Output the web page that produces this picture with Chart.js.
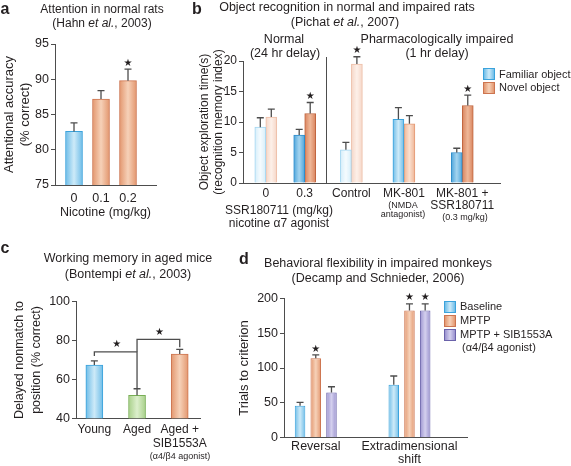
<!DOCTYPE html>
<html>
<head>
<meta charset="utf-8">
<title>Nicotinic agonists and cognition</title>
<script src="https://cdn.jsdelivr.net/npm/chart.js@4.4.1/dist/chart.umd.min.js"></script>
<style>
html,body{margin:0;padding:0;background:#fff}
body{position:relative;width:571px;height:466px;overflow:hidden;font-family:"Liberation Sans",Arial,Helvetica,sans-serif;color:#231f20}
canvas{position:absolute}
.c,.l{position:absolute;white-space:nowrap;line-height:1;font-size:12.5px}
.c{transform:translate(-50%,-50%)}
.l{transform:translateY(-50%)}
.p{font-weight:bold;font-size:16px}
.s{font-size:9px}
.g{font-size:11px}
.sw{position:absolute;width:10px;height:10px;border:1px solid}
.sw.blue{border-color:#3ba3dc;background:linear-gradient(to right,#6fbde8,#cdeaf8,#6fbde8)}
.sw.orange{border-color:#cd7550;background:linear-gradient(to right,#e3976f,#f6d1b8,#e3976f)}
.sw.purple{border-color:#6a62aa;background:linear-gradient(to right,#9a92cf,#d4d0ee,#9a92cf)}
</style>
</head>
<body>
<canvas id="chartA" width="160" height="225" style="left:0;top:0"></canvas>
<canvas id="chartB" width="376" height="235" style="left:195px;top:0"></canvas>
<canvas id="chartC" width="235" height="236" style="left:0;top:230px"></canvas>
<canvas id="chartD" width="336" height="236" style="left:235px;top:230px"></canvas>

<!-- a -->
<div class="c p" style="left:5px;top:9px">a</div>
<div class="c" style="left:102px;top:9px;font-size:12px">Attention in normal rats</div>
<div class="c" style="left:102px;top:23px;font-size:12px">(Hahn <i>et al.</i>, 2003)</div>

<!-- b -->
<div class="c p" style="left:197px;top:9px">b</div>
<div class="c" style="left:347px;top:7px">Object recognition in normal and impaired rats</div>
<div class="c" style="left:345px;top:22px">(Pichat <i>et al.</i>, 2007)</div>
<div class="c" style="left:284px;top:39px">Normal</div>
<div class="c" style="left:285px;top:53px">(24 hr delay)</div>
<div class="c" style="left:437px;top:39px">Pharmacologically impaired</div>
<div class="c" style="left:437px;top:53px">(1 hr delay)</div>
<div class="sw blue" style="left:483px;top:68px"></div>
<div class="l g" style="left:499px;top:74px">Familiar object</div>
<div class="sw orange" style="left:483px;top:82px"></div>
<div class="l g" style="left:499px;top:87px">Novel object</div>
<div class="c" style="left:279px;top:210px;font-size:12px">SSR180711 (mg/kg)</div>
<div class="c" style="left:279px;top:223px;font-size:12px">nicotine α7 agonist</div>
<div class="c s" style="left:403px;top:205px">(NMDA</div>
<div class="c s" style="left:403px;top:214px">antagonist)</div>
<div class="c s" style="left:465px;top:217px">(0.3 mg/kg)</div>

<!-- c -->
<div class="c p" style="left:5px;top:248px">c</div>
<div class="c" style="left:128px;top:258px">Working memory in aged mice</div>
<div class="c" style="left:128px;top:274px">(Bontempi <i>et al.</i>, 2003)</div>
<div class="c s" style="left:180px;top:456px">(α4/β4 agonist)</div>

<!-- d -->
<div class="c p" style="left:244px;top:259px">d</div>
<div class="c" style="left:378px;top:263px">Behavioral flexibility in impaired monkeys</div>
<div class="c" style="left:378px;top:278px">(Decamp and Schnieder, 2006)</div>
<div class="sw blue" style="left:444px;top:301px"></div>
<div class="l g" style="left:460px;top:306px">Baseline</div>
<div class="sw orange" style="left:444px;top:315px"></div>
<div class="l g" style="left:460px;top:320px">MPTP</div>
<div class="sw purple" style="left:444px;top:329px"></div>
<div class="l g" style="left:460px;top:334px">MPTP + SIB1553A</div>
<div class="l g" style="left:462px;top:347px">(α4/β4 agonist)</div>

<script>
// --- a : attention, Hahn et al. 2003
const catsA = ['0', '0.1', '0.2'];
const accuracyA = [82.6, 87.2, 89.8];
const accuracyErrA = [1.2, 1.2, 1.65];
const accuracyStarA = [false, false, true];

// --- b : object recognition, Pichat et al. 2007
const catsB = ['0', '0.3', 'Control', 'MK-801', ['MK-801 +', 'SSR180711']];
const familiarB = [9.15, 7.85, 5.45, 10.45, 5.0];
const familiarErrB = [1.55, 0.95, 1.2, 1.9, 0.7];
const novelB = [10.8, 11.4, 19.5, 9.7, 12.7];
const novelErrB = [1.3, 1.8, 1.2, 1.35, 1.7];
const novelStarB = [false, true, true, false, true];

// --- c : working memory, Bontempi et al. 2003
const catsC = ['Young', 'Aged', ['Aged +', 'SIB1553A']];
const dnmtpC = [67.4, 51.8, 73.1];
const dnmtpErrC = [2.1, 3.4, 2.4];
// significance brackets: bar pair, bracket level, leg ends (y values)
const bracketsC = [
	{pair: [0, 1], level: 74.2, feet: [72, 55.2]},
	{pair: [1, 2], level: 80.6, feet: [74.2, 76.5]}
];

// --- d : behavioural flexibility, Decamp & Schneider 2006
const catsD = ['Reversal', ['Extradimensional', 'shift']];
const baselineD = [46, 76];
const baselineErrD = [4.8, 12.5];
const mptpD = [114, 182.5];
const mptpErrD = [4.7, 9.5];
const mptpStarD = [true, true];
const mptpSibD = [65, 182.5];
const mptpSibErrD = [8.1, 9.5];
const mptpSibStarD = [false, true];

// category slots on the x scales (b is not evenly spaced)
const slotA = [0, 1, 2];
const slotB = [0, 1, 2.2, 3.55, 5.05];
const dividerB = 1.55;
const slotC = [0, 1, 2];
const slotD = [0, 1];

const INK = '#231f20', AXIS = '#4d4d4d';
const FONT = '"Liberation Sans", Arial, Helvetica, sans-serif';

function tone(edge, mid, line){ return {edge: edge, mid: mid, line: line}; }
const BLUE = tone('#6fbde8', '#cdeaf8', '#3ba3dc');
const BLUE_PALE = tone('#d6eefa', '#f5fbfe', '#a3d6f1');
const BLUE_DARK = tone('#4ea5db', '#a4d4ef', '#2f8dcb');
const ORANGE = tone('#e3976f', '#f6d1b8', '#cd7550');
const ORANGE_PALE = tone('#f5d6c7', '#fdf0e9', '#eebfa8');
const ORANGE_LIGHT = tone('#efb595', '#fae0d0', '#e49a76');
const ORANGE_DARK = tone('#d9845e', '#efb899', '#c0653f');
const GREEN = tone('#a8d08a', '#dcefcc', '#78ae55');
const PURPLE = tone('#9a92cf', '#d4d0ee', '#6a62aa');

Chart.defaults.font.family = FONT;
Chart.defaults.color = INK;

function star(ctx, x, y){
	ctx.save();
	ctx.fillStyle = INK;
	ctx.font = '10px "DejaVu Sans"';
	ctx.textAlign = 'center';
	ctx.textBaseline = 'middle';
	ctx.fillText('\u2605', x, y);
	ctx.restore();
}

// horizontal shading of each bar: darker edges, light middle
const shade = {
	id: 'shade',
	beforeDatasetsDraw(chart){
		const ctx = chart.ctx;
		chart.data.datasets.forEach((ds, di) => {
			chart.getDatasetMeta(di).data.forEach((bar, i) => {
				const t = ds.tones[i];
				const g = ctx.createLinearGradient(bar.x - bar.width / 2, 0, bar.x + bar.width / 2, 0);
				g.addColorStop(0, t.edge);
				g.addColorStop(0.5, t.mid);
				g.addColorStop(1, t.edge);
				bar.options.backgroundColor = g;
			});
		});
	}
};

// upper error bars and stars
const errorBars = {
	id: 'errorBars',
	afterDatasetsDraw(chart){
		const ctx = chart.ctx, y = chart.scales.y;
		chart.data.datasets.forEach((ds, di) => {
			chart.getDatasetMeta(di).data.forEach((bar, i) => {
				const top = y.getPixelForValue(ds.data[i].y + ds.errors[i]);
				ctx.save();
				ctx.strokeStyle = AXIS;
				ctx.lineWidth = 1.3;
				ctx.beginPath();
				ctx.moveTo(bar.x, bar.y);
				ctx.lineTo(bar.x, top);
				ctx.moveTo(bar.x - 3.5, top);
				ctx.lineTo(bar.x + 3.5, top);
				ctx.stroke();
				ctx.restore();
				if (ds.stars && ds.stars[i])
					star(ctx, bar.x, top - 6);
			});
		});
	}
};

function barSet(label, slots, vals, errs, tones, stars){
	return {
		label: label,
		data: vals.map((v, i) => ({x: slots[i], y: v})),
		errors: errs,
		stars: stars,
		tones: tones,
		backgroundColor: c => tones[c.dataIndex].edge,
		borderColor: c => tones[c.dataIndex].line,
		borderWidth: 1
	};
}

function xScale(o){
	return {
		type: 'linear',
		offset: false,
		min: o.min, max: o.max,
		afterFit: s => { s.height = o.height; },
		afterBuildTicks: s => { s.ticks = o.slots.map(v => ({value: v})); },
		ticks: {
			callback: (v, i) => o.cats[i],
			autoSkip: false, maxRotation: 0, minRotation: 0,
			padding: o.pad, color: INK,
			font: {size: o.size, lineHeight: o.lh}
		},
		grid: {display: false, drawTicks: false, offset: false},
		border: {color: AXIS, width: 1},
		title: o.title ? {display: true, text: o.title, color: INK, font: {size: o.size}, padding: {top: 0, bottom: o.titlePad}} : {display: false}
	};
}

function yScale(o){
	return {
		type: 'linear',
		min: o.min, max: o.max,
		afterFit: s => { s.width = o.width; },
		ticks: {stepSize: o.step, padding: 2, color: INK, font: {size: o.size}},
		grid: {drawOnChartArea: false, drawTicks: true, tickLength: 4, color: AXIS, lineWidth: 1},
		border: {color: AXIS, width: 1},
		title: {display: true, text: o.title, color: INK, font: {size: o.titleSize, lineHeight: o.titleLh}, padding: {top: o.titlePad, bottom: 0}}
	};
}

function panel(id, o){
	return new Chart(document.getElementById(id), {
		type: 'bar',
		data: {datasets: o.datasets},
		options: {
			responsive: false,
			animation: false,
			devicePixelRatio: 1,
			events: [],
			layout: {padding: o.padding},
			plugins: {legend: {display: false}, tooltip: {enabled: false}},
			datasets: {bar: o.bar},
			scales: {x: o.x, y: o.y}
		},
		plugins: [shade, errorBars].concat(o.plugins || [])
	});
}

// a
panel('chartA', {
	padding: {left: 0, top: 44, right: 4, bottom: 0},
	bar: {barThickness: 17},
	datasets: [barSet('Accuracy', slotA, accuracyA, accuracyErrA, [BLUE, ORANGE, ORANGE], accuracyStarA)],
	x: xScale({min: -0.704, max: 3.037, slots: slotA, cats: catsA, height: 40, pad: 6.5, size: 12.5, lh: 1.2,
		title: 'Nicotine (mg/kg)', titlePad: 4.5}),
	y: yScale({min: 75, max: 95, step: 5, width: 55, size: 12.5,
		title: ['Attentional accuracy', '(% correct)'], titleSize: 13, titleLh: 16 / 13, titlePad: 1})
});

// b
panel('chartB', {
	padding: {left: 0, top: 61, right: 71, bottom: 0},
	bar: {barThickness: 11},
	datasets: [
		barSet('Familiar object', slotB, familiarB, familiarErrB, [BLUE_PALE, BLUE_DARK, BLUE_PALE, BLUE, BLUE_DARK], []),
		barSet('Novel object', slotB, novelB, novelErrB, [ORANGE_PALE, ORANGE_DARK, ORANGE_PALE, ORANGE_LIGHT, ORANGE_DARK], novelStarB)
	],
	x: xScale({min: -0.586, max: 6.02, slots: slotB, cats: catsB, height: 52, pad: 4.3, size: 12, lh: 1.0}),
	y: yScale({min: 0, max: 20, step: 5, width: 48, size: 12,
		title: ['Object exploration time(s)', '(recognition memory index)'], titleSize: 12, titleLh: 14 / 12, titlePad: 3}),
	plugins: [{
		id: 'dividerB',
		afterDatasetsDraw(chart){
			const ctx = chart.ctx, area = chart.chartArea;
			const px = Math.round(chart.scales.x.getPixelForValue(dividerB)) + 0.5;
			ctx.save();
			ctx.strokeStyle = AXIS;
			ctx.lineWidth = 1;
			ctx.beginPath();
			ctx.moveTo(px, area.bottom);
			ctx.lineTo(px, area.top - 4);
			ctx.stroke();
			ctx.restore();
		}
	}]
});

// c
panel('chartC', {
	padding: {left: 0, top: 71.7, right: 35, bottom: 0},
	bar: {barThickness: 17},
	datasets: [barSet('DNMTP', slotC, dnmtpC, dnmtpErrC, [BLUE, GREEN, ORANGE], [])],
	x: xScale({min: -0.43, max: 2.475, slots: slotC, cats: catsC, height: 47.7, pad: 4, size: 12, lh: 14 / 12}),
	y: yScale({min: 40, max: 100, step: 20, width: 76, size: 12.5,
		title: ['Delayed nonmatch to', 'position (% correct)'], titleSize: 12.5, titleLh: 17 / 12.5, titlePad: 11.5}),
	plugins: [{
		id: 'bracketsC',
		afterDatasetsDraw(chart){
			const ctx = chart.ctx, x = chart.scales.x, y = chart.scales.y;
			bracketsC.forEach(b => {
				const x0 = x.getPixelForValue(slotC[b.pair[0]]);
				const x1 = x.getPixelForValue(slotC[b.pair[1]]);
				const yl = y.getPixelForValue(b.level);
				ctx.save();
				ctx.strokeStyle = AXIS;
				ctx.lineWidth = 1.3;
				ctx.beginPath();
				ctx.moveTo(x0, y.getPixelForValue(b.feet[0]));
				ctx.lineTo(x0, yl);
				ctx.lineTo(x1, yl);
				ctx.lineTo(x1, y.getPixelForValue(b.feet[1]));
				ctx.stroke();
				ctx.restore();
				star(ctx, (x0 + x1) / 2 + 1, yl - 7);
			});
		}
	}]
});

// d
panel('chartD', {
	padding: {left: 0, top: 68.3, right: 104, bottom: 0},
	bar: {categoryPercentage: 0.503, barPercentage: 0.67},
	datasets: [
		barSet('Baseline', slotD, baselineD, baselineErrD, [BLUE, BLUE], []),
		barSet('MPTP', slotD, mptpD, mptpErrD, [ORANGE, ORANGE], mptpStarD),
		barSet('MPTP + SIB1553A', slotD, mptpSibD, mptpSibErrD, [PURPLE, PURPLE], mptpSibStarD)
	],
	x: xScale({min: -0.339, max: 1.614, slots: slotD, cats: catsD, height: 28.3, pad: 2.35, size: 12.5, lh: 13.3 / 12.5}),
	y: yScale({min: 0, max: 200, step: 50, width: 49, size: 12.5,
		title: 'Trials to criterion', titleSize: 13, titleLh: 14 / 13, titlePad: 2})
});
</script>
</body>
</html>
